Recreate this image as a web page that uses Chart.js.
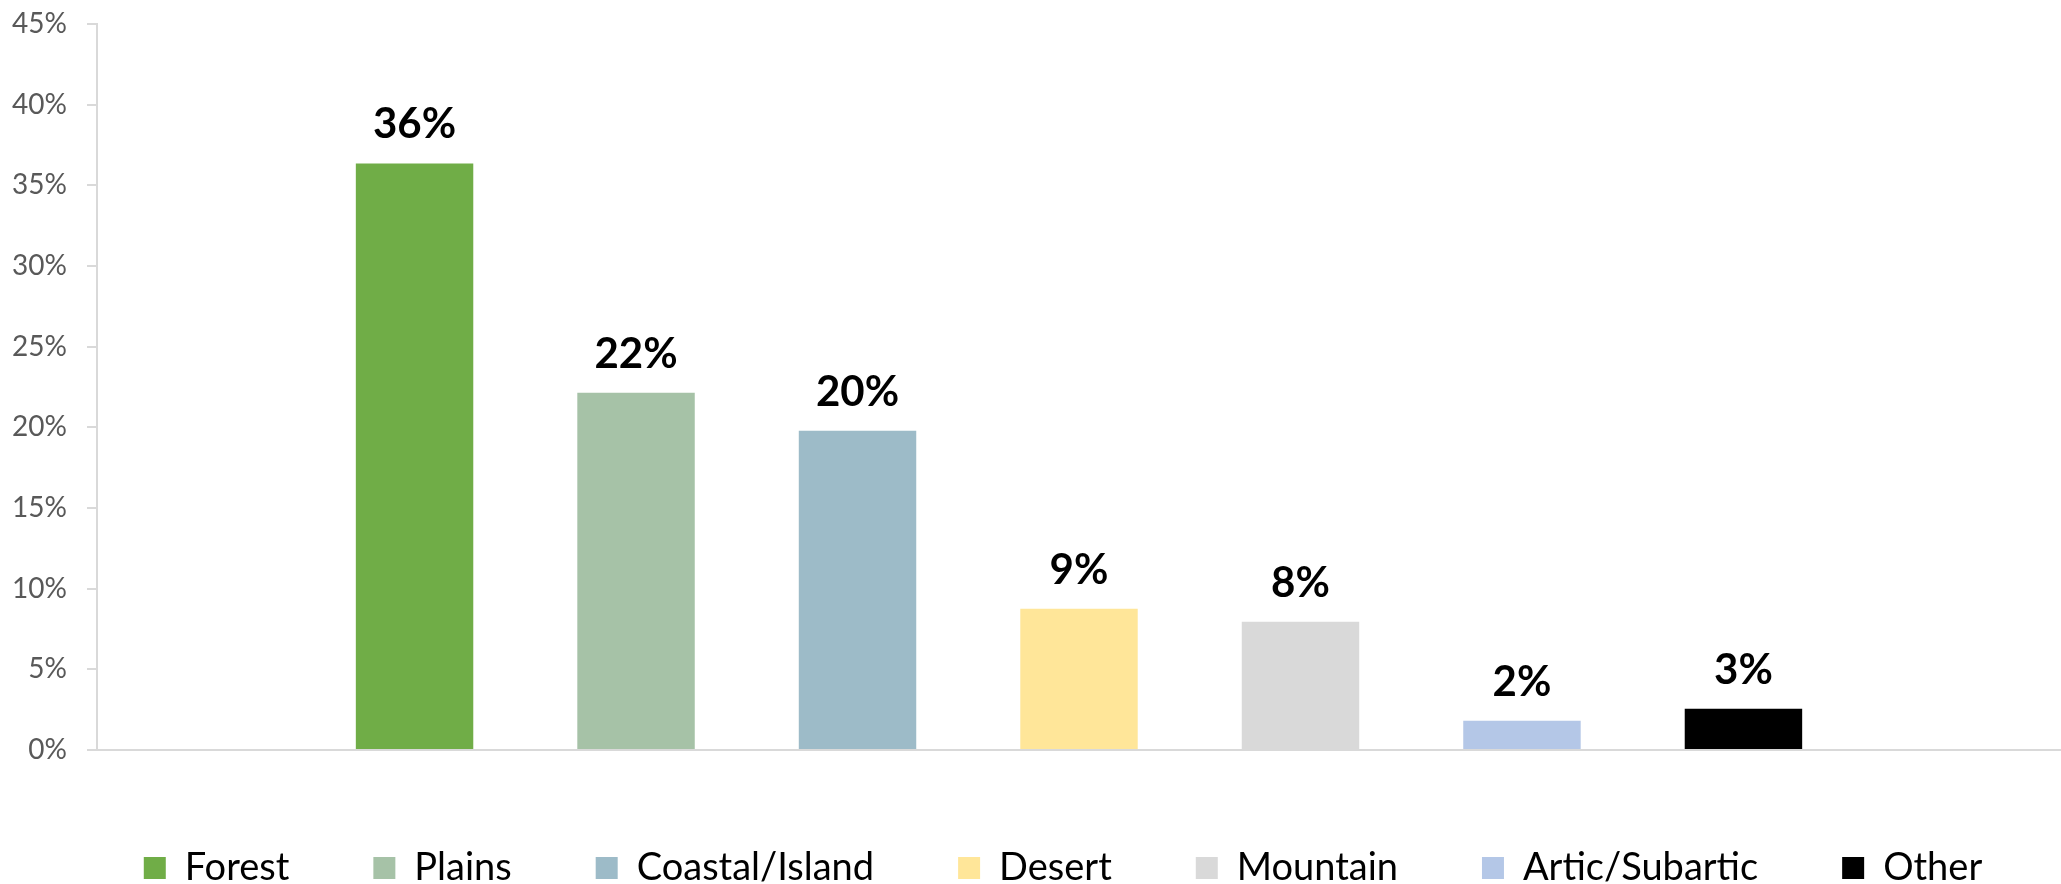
<!DOCTYPE html>
<html>
<head>
<meta charset="utf-8">
<script src="https://cdn.jsdelivr.net/npm/chart.js@4.4.1/dist/chart.umd.min.js"></script>
<style>
  body { margin: 0; background: #fff; }
  #wrap { width: 2061px; height: 884px; position: relative; }
</style>
</head>
<body>
<div id="wrap"><canvas id="chart"></canvas></div>
<script>
// chart data
const categories = ['Climate'];
const seriesNames = ['Forest', 'Plains', 'Coastal/Island', 'Desert', 'Mountain', 'Artic/Subartic', 'Other'];
const seriesValues = [0.3636, 0.2215, 0.1979, 0.0876, 0.0795, 0.0182, 0.0256];
const seriesColors = ['#70AD47', '#A6C2A7', '#9DBBC8', '#FFE699', '#D9D9D9', '#B4C7E7', '#000000'];
const yTicks = [0, 0.05, 0.10, 0.15, 0.20, 0.25, 0.30, 0.35, 0.40, 0.45];

const FONT = 'Lato, "Open Sans", sans-serif';

// value labels above each bar
const barLabels = {
    id: 'barLabels',
    afterDatasetsDraw(chart) {
        const ctx = chart.ctx;
        ctx.save();
        ctx.font = 'bold 42px ' + FONT;
        ctx.fillStyle = '#000';
        ctx.textAlign = 'center';
        ctx.textBaseline = 'alphabetic';
        chart.data.datasets.forEach((ds, i) => {
            const meta = chart.getDatasetMeta(i);
            meta.data.forEach((bar, j) => {
                const txt = Math.round(ds.data[j] * 100) + '%';
                ctx.fillText(txt, bar.x, bar.y - 25);
            });
        });
        ctx.restore();
    }
};

// nudge the legend a bit right and down, like the original
const legendShift = {
    id: 'legendShift',
    afterLayout(chart) {
        if (chart.legend) {
            chart.legend.left += 56;
            chart.legend.top += 4;
        }
    }
};

const datasets = seriesNames.map((name, i) => ({
    label: name,
    data: [seriesValues[i]],
    backgroundColor: seriesColors[i],
    categoryPercentage: 0.7894,
    barPercentage: 0.5303
}));

new Chart(document.getElementById('chart').getContext('2d'), {
    type: 'bar',
    data: { labels: categories, datasets: datasets },
    plugins: [barLabels, legendShift],
    options: {
        responsive: true,
        maintainAspectRatio: false,
        animation: false,
        layout: { padding: { top: 24, left: 0, right: -9, bottom: -9 } },
        plugins: {
            tooltip: { enabled: false },
            legend: {
                position: 'bottom',
                labels: {
                    font: { family: FONT, size: 38 },
                    color: '#000',
                    boxWidth: 22,
                    boxHeight: 22,
                    padding: 84
                }
            }
        },
        scales: {
            x: {
                ticks: { display: false },
                grid: { display: true, drawOnChartArea: false, drawTicks: true, tickLength: 11, tickColor: 'rgba(0,0,0,0)' },
                border: { color: '#D9D9D9', width: 2 }
            },
            y: {
                min: 0,
                max: 0.45,
                afterFit: s => { s.width = 97; s.paddingTop = 0; s.paddingBottom = 0; },
                afterBuildTicks: s => { s.ticks = yTicks.map(v => ({ value: v })); },
                ticks: {
                    padding: 20,
                    color: '#595959',
                    font: { family: FONT, size: 28 },
                    callback: v => Math.round(v * 100) + '%'
                },
                grid: { drawOnChartArea: false, tickLength: 10, color: '#D9D9D9', lineWidth: 2 },
                border: { color: '#D9D9D9', width: 2 }
            }
        }
    }
});
</script>
</body>
</html>
